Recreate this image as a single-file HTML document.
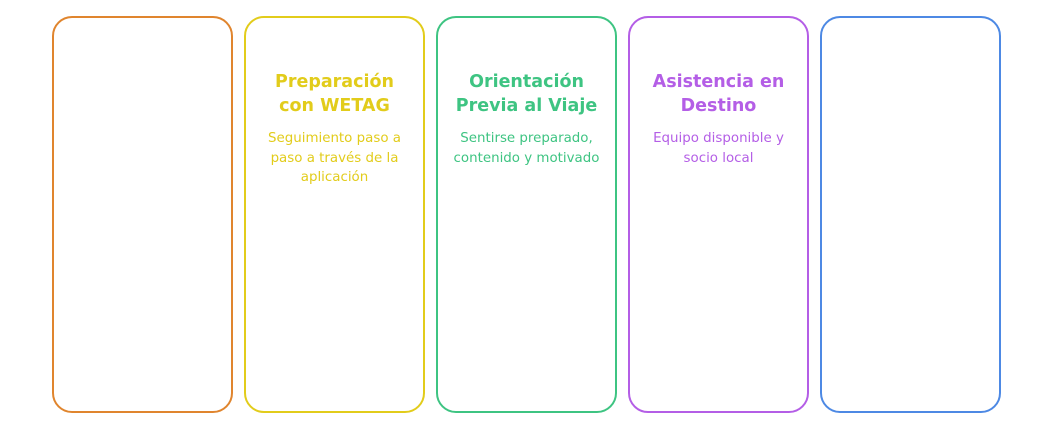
<!DOCTYPE html>
<html><head><meta charset="utf-8"><style>
html,body{margin:0;padding:0;width:1054px;height:432px;background:#fff;overflow:hidden}
.b{position:absolute;top:16px;width:177px;height:393px;border:2px solid;border-radius:20px;text-align:center;font-family:"DejaVu Sans","Liberation Sans",sans-serif}
.t{position:absolute;top:52px;left:0;right:0;font-weight:bold;font-size:17.5px;line-height:24px}
.s{position:absolute;top:111px;left:6px;right:6px;font-size:13.4px;line-height:19.5px}
</style></head><body>
<div class="b" style="left:52px;border-color:#e0852e"></div>
<div class="b" style="left:244px;border-color:#e2cc1b;color:#e2cc1b"><div class="t">Preparación<br>con WETAG</div><div class="s">Seguimiento paso a paso a través de la aplicación</div></div>
<div class="b" style="left:436px;border-color:#3ec482;color:#3ec482"><div class="t">Orientación<br>Previa al Viaje</div><div class="s">Sentirse preparado, contenido y motivado</div></div>
<div class="b" style="left:628px;border-color:#b45ee6;color:#b45ee6"><div class="t">Asistencia en<br>Destino</div><div class="s">Equipo disponible y socio local</div></div>
<div class="b" style="left:820px;border-color:#4d89e4"></div>
</body></html>
